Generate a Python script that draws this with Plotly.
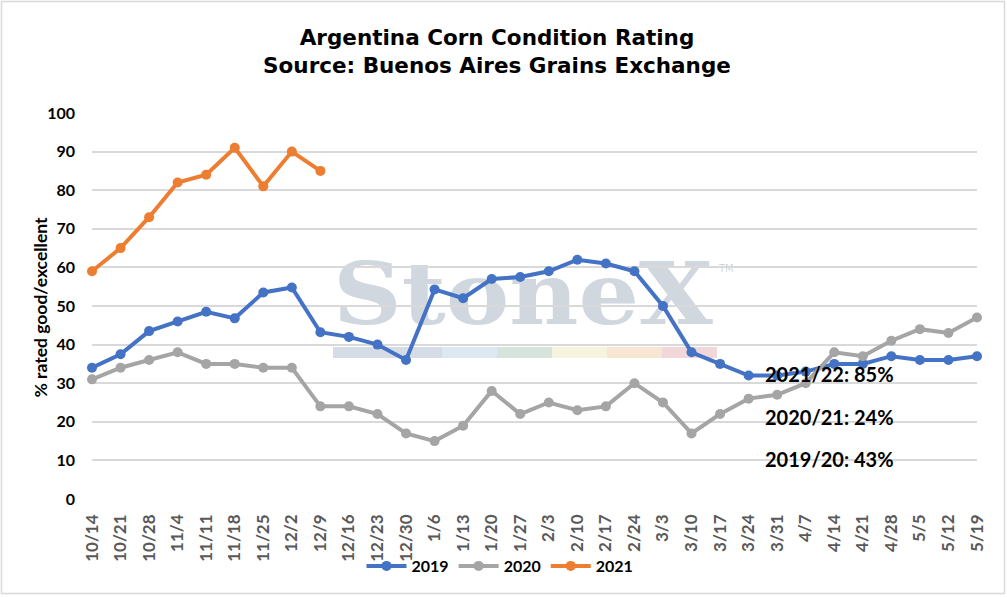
import base64
import plotly.graph_objects as go

categories = ["10/14", "10/21", "10/28", "11/4", "11/11", "11/18", "11/25", "12/2",
              "12/9", "12/16", "12/23", "12/30", "1/6", "1/13", "1/20", "1/27",
              "2/3", "2/10", "2/17", "2/24", "3/3", "3/10", "3/17", "3/24",
              "3/31", "4/7", "4/14", "4/21", "4/28", "5/5", "5/12", "5/19"]
s2019 = [34, 37.5, 43.5, 46, 48.5, 46.8, 53.5, 54.8, 43.2, 42, 40, 36, 54.3, 52, 57, 57.5,
         59, 62, 61, 59, 50, 38, 35, 32, 32, 33, 35, 35, 37, 36, 36, 37]
s2020 = [31, 34, 36, 38, 35, 35, 34, 34, 24, 24, 22, 17, 15, 19, 28, 22,
         25, 23, 24, 30, 25, 17, 22, 26, 27, 30, 38, 37, 41, 44, 43, 47]
s2021 = [59, 65, 73, 82, 84, 91, 81, 90, 85]
series_names = ["2019", "2020", "2021"]
series_colors = ["#4472C4", "#A5A5A5", "#ED7D31"]
notes = ["2021/22: 85%", "2020/21: 24%", "2019/20: 43%"]
y_ticks = [0, 10, 20, 30, 40, 50, 60, 70, 80, 90, 100]

FONT = "Lato"
fig = go.Figure()
for name, vals, col in zip(series_names, [s2019, s2020, s2021], series_colors):
    fig.add_trace(go.Scatter(
        x=categories[:len(vals)], y=vals, name=name, mode="lines+markers",
        line=dict(color=col, width=4), marker=dict(color=col, size=10),
        cliponaxis=False))

# geometry helpers (pixels -> paper)
L, R, T, B, W, H = 92, 30, 113, 98, 1007, 597
PW, PH = W - L - R, H - T - B
def px(x):
    return (x - L) / PW
def py(y):
    return (H - B - y) / PH

# watermark image
svg = ('<svg xmlns="http://www.w3.org/2000/svg" width="400" height="80" viewBox="0 0 400 80">'
       '<text x="0" y="69" font-family="DejaVu Serif" font-weight="bold" font-size="86" '
       'fill="#d0d7df" textLength="380" lengthAdjust="spacingAndGlyphs">StoneX</text>'
       '<text x="386" y="17" font-family="DejaVu Sans" font-size="10" fill="#d3d9e0">TM</text>'
       '</svg>')
src = "data:image/svg+xml;base64," + base64.b64encode(svg.encode()).decode()
fig.add_layout_image(dict(source=src, xref="paper", yref="paper", x=px(333), y=py(255),
                          sizex=400 / PW, sizey=80 / PH, xanchor="left", yanchor="top",
                          sizing="stretch", layer="below"))
bar_segs = [(333, 442, "#d5dce5"), (442, 497, "#dde9f2"), (497, 552, "#d6e4dd"),
            (552, 607, "#f6f4de"), (607, 662, "#f8e6d3"), (662, 717, "#f1d7d9")]
for x0, x1, c in bar_segs:
    fig.add_shape(type="rect", xref="paper", yref="paper", x0=px(x0), x1=px(x1),
                  y0=py(358), y1=py(347), fillcolor=c, line=dict(width=0), layer="below")

# chart border
fig.add_shape(type="rect", xref="paper", yref="paper", x0=px(1.5), x1=px(1004.5),
              y0=py(593.5), y1=py(1.5), line=dict(color="#d9d9d9", width=1.5))

# y title
fig.add_annotation(text="<b>% rated good/excellent</b>", xref="paper", yref="paper",
                   x=px(27), y=py(307), textangle=-90, showarrow=False,
                   font=dict(family=FONT, size=17.5, color="black"))
for i, t in enumerate(notes):
    fig.add_annotation(text=t, xref="paper", yref="paper", x=px(763), y=py(374 + 42.5 * i),
                       xanchor="left", yanchor="middle", showarrow=False,
                       font=dict(family=FONT, size=20, color="black", weight="bold"))

fig.update_layout(
    width=W, height=H, margin=dict(l=L, r=R, t=T, b=B),
    paper_bgcolor="white", plot_bgcolor="white",
    title=dict(text="<b>Argentina Corn Condition Rating<br>Source: Buenos Aires Grains Exchange</b>",
               x=497 / W, xanchor="center", y=1 - 45 / H, yanchor="top",
               font=dict(family="DejaVu Sans", size=21.5, color="black")),
    xaxis=dict(type="category", categoryorder="array", categoryarray=categories,
               range=[0, len(categories) - 1], showgrid=False, zeroline=False,
               showline=False, tickangle=-90, ticks="", ticklabelstandoff=11,
               tickfont=dict(family=FONT, size=17, color="#595959", weight="bold")),
    yaxis=dict(range=[0, 100], tickvals=y_ticks, showgrid=True, gridcolor="#d9d9d9",
               gridwidth=1.5, zeroline=False, showline=False, ticks="",
               ticklabelstandoff=16,
               tickfont=dict(family=FONT, size=16, color="black", weight="bold")),
    legend=dict(orientation="h", xanchor="center", x=px(500), yanchor="middle", y=py(566),
                bgcolor="rgba(0,0,0,0)",
                font=dict(family=FONT, size=16, color="black", weight="bold"),
                itemwidth=40, tracegroupgap=0),
    showlegend=True,
)
fig.write_html("out.html", config={"displayModeBar": False},
               post_script="document.body.style.margin='0';")
